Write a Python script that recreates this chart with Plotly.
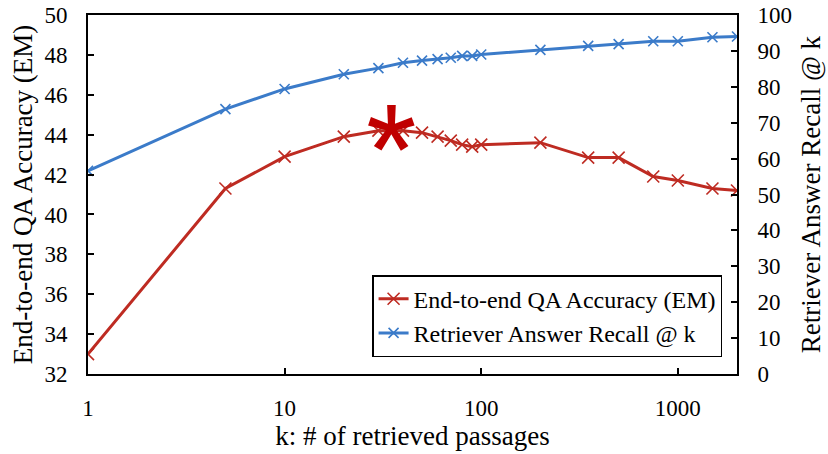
import plotly.graph_objects as go
import numpy as np

k_vals = [1, 5, 10, 20, 30, 40, 50, 60, 70, 80, 90, 100, 200, 350, 500, 750, 1000, 1500, 2000]
qa_em = [33.0, 41.3, 42.9, 43.9, 44.2, 44.2, 44.1, 43.9, 43.7, 43.5, 43.4, 43.5, 43.6, 42.85, 42.85, 41.9, 41.7, 41.3, 41.2]
recall = [56.6, 73.8, 79.4, 83.5, 85.2, 86.7, 87.3, 87.7, 88.1, 88.6, 88.6, 89.0, 90.3, 91.4, 91.9, 92.7, 92.7, 93.8, 94.0]
best_k = 35
best_em = 44.3

x_ticks = [1, 10, 100, 1000]
x_tick_text = ["1", "10", "100", "1000"]

RED = "#BE2B22"
BLUE = "#3B7BC9"
FONT = "Liberation Serif, Times New Roman, serif"

fig = go.Figure()
fig.add_trace(go.Scatter(
    x=k_vals, y=qa_em, mode="lines+markers", name="End-to-end QA Accuracy (EM)",
    legendgroup="a",
    line=dict(color=RED, width=3),
    marker=dict(symbol="x-thin", size=12, line=dict(color=RED, width=1.6)),
    yaxis="y"))
fig.add_trace(go.Scatter(
    x=k_vals, y=recall, mode="lines+markers", name="Retriever Answer Recall @ k",
    legendgroup="b",
    line=dict(color=BLUE, width=3),
    marker=dict(symbol="x-thin", size=10, line=dict(color=BLUE, width=1.6)),
    yaxis="y2"))

fig.add_annotation(
    x=np.log10(best_k), y=best_em, xref="x", yref="y", text="*", showarrow=False,
    font=dict(family="Liberation Sans", size=130, color="#C00000"),
    xanchor="center", yanchor="middle", yshift=-21)

tick_font = dict(family=FONT, size=23, color="black")
title_font = dict(family=FONT, size=27, color="black")

fig.update_layout(
    width=828, height=454,
    margin=dict(l=88, r=91, t=15, b=80, autoexpand=False),
    paper_bgcolor="white", plot_bgcolor="white",
    font=dict(family=FONT, size=23, color="black"),
    xaxis=dict(
        type="log", range=[0, np.log10(2000)],
        tickvals=x_ticks, ticktext=x_tick_text,
        ticks="inside", ticklen=6, tickwidth=1.5, tickcolor="black",
        showline=True, linecolor="black", linewidth=2, mirror=True,
        showgrid=False, zeroline=False, tickfont=tick_font, ticklabelstandoff=12,
        automargin=False,
        title=dict(text="k: # of retrieved passages", font=title_font, standoff=6),
    ),
    yaxis=dict(
        range=[32, 50], dtick=2,
        ticks="inside", ticklen=6, tickwidth=1.5, tickcolor="black",
        showline=True, linecolor="black", linewidth=2, mirror=True,
        showgrid=False, zeroline=False, tickfont=tick_font, ticklabelstandoff=14,
        automargin=False,
        title=dict(text="End-to-end QA Accuracy (EM)", font=title_font, standoff=4),
    ),
    yaxis2=dict(
        range=[0, 100], dtick=10, overlaying="y", side="right",
        ticks="inside", ticklen=6, tickwidth=1.5, tickcolor="black",
        showline=True, linecolor="black", linewidth=2,
        showgrid=False, zeroline=False, tickfont=tick_font, ticklabelstandoff=14,
        automargin=False,
        title=dict(text="Retriever Answer Recall @ k", font=title_font, standoff=10),
    ),
    legend=dict(
        x=0.977, y=0.047, xanchor="right", yanchor="bottom",
        bgcolor="white", bordercolor="black", borderwidth=1.5,
        font=dict(family=FONT, size=24, color="black"),
        itemwidth=30, tracegroupgap=0, traceorder="grouped",
    ),
    showlegend=True,
)

fig.write_html("out.html")
